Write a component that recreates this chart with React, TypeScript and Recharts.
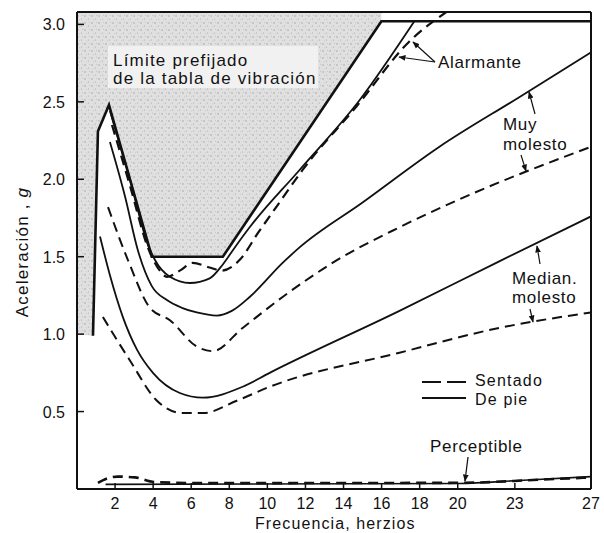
import { ComposedChart, Line, Area, XAxis, YAxis, ReferenceLine } from "recharts";

// frecuencia (Hz) y aceleración (g)
const xTicks = [2, 4, 6, 8, 10, 12, 14, 16, 18, 20, 23, 27];
const yTicks = [0.5, 1.0, 1.5, 2.0, 2.5, 3.0];
const yTop = 3.08;

const limitF = [0.84, 1.1, 1.68, 3.93, 7.66, 15.99, 27];
const limitG = [0.99, 2.31, 2.48, 1.5, 1.5, 3.02, 3.02];

const alarmPieF = [1.73, 2.78, 3.72, 4.09, 4.88, 5.93, 6.97, 7.66, 8.29, 9.07, 11.69, 14.84, 17.72];
const alarmPieG = [2.44, 2.0, 1.58, 1.48, 1.37, 1.33, 1.36, 1.45, 1.56, 1.69, 2.06, 2.51, 3.02];

const alarmSentF = [1.84, 2.78, 3.72, 4.35, 4.72, 5.4, 6.08, 6.97, 7.6, 8.55, 9.49, 10.75, 11.85, 14.68, 17.46, 19.4];
const alarmSentG = [2.35, 1.96, 1.56, 1.41, 1.37, 1.41, 1.46, 1.43, 1.41, 1.48, 1.65, 1.87, 2.06, 2.47, 2.89, 3.08];

const muyPieF = [1.73, 2.52, 3.2, 3.93, 4.72, 5.51, 6.29, 7.34, 8.13, 9.07, 10.8, 11.69, 15.0, 19.04, 23.23, 27];
const muyPieG = [2.24, 1.89, 1.54, 1.31, 1.22, 1.17, 1.14, 1.12, 1.15, 1.24, 1.46, 1.56, 1.85, 2.21, 2.53, 2.82];

const muySentF = [1.63, 2.67, 3.83, 4.88, 6.29, 7.13, 8.7, 10.8, 13.42, 16.94, 20.08, 27];
const muySentG = [1.82, 1.48, 1.17, 1.09, 0.92, 0.89, 1.04, 1.24, 1.46, 1.69, 1.87, 2.21];

const medPieF = [1.21, 1.73, 2.41, 3.15, 3.99, 5.4, 6.61, 8.7, 10.12, 16.94, 22.18, 27];
const medPieG = [1.63, 1.38, 1.11, 0.9, 0.75, 0.62, 0.59, 0.66, 0.75, 1.15, 1.47, 1.76];

const medSentF = [1.36, 2.78, 4.2, 5.56, 6.61, 8.39, 10.12, 16.94, 22.18, 27];
const medSentG = [1.11, 0.83, 0.57, 0.49, 0.49, 0.57, 0.66, 0.88, 1.04, 1.14];

const percPieF = [1.5, 20.1, 23.2, 27];
const percPieG = [0.03, 0.036, 0.055, 0.08];

const percSentF = [1.1, 1.63, 2.15, 3.04, 4.09, 6.45, 20.1, 24.3, 27];
const percSentG = [0.04, 0.07, 0.08, 0.075, 0.045, 0.038, 0.04, 0.06, 0.075];

const pts = (f: number[], g: number[]) => f.map((v, i) => ({ f: v, g: g[i] }));

// zona sombreada: sobre el límite, hasta el borde superior
const shadeData = [{ f: 0, g: 1.0 }, ...pts(limitF, limitG).filter((p) => p.f < 16)].map((p) => ({
  f: p.f,
  band: [p.g, yTop],
}));

const ink = "#111";
const font = "'Liberation Sans', Arial, sans-serif";

const XTick = ({ x, y, payload }: any) => (
  <g>
    <line x1={x} y1={y} x2={x} y2={y - 6} stroke={ink} strokeWidth={1.5} />
    <text x={x} y={y + 20} textAnchor="middle" fontSize={16} fill={ink} fontFamily={font}>
      {payload.value}
    </text>
  </g>
);

const YTick = ({ x, y, payload }: any) => (
  <g>
    <line x1={x} y1={y} x2={x + 7} y2={y} stroke={ink} strokeWidth={1.5} />
    <text x={x - 12} y={y + 6} textAnchor="end" fontSize={16} fill={ink} fontFamily={font}>
      {payload.value.toFixed(1)}
    </text>
  </g>
);

const solid = (key: string, data: any[], w = 1.8) => (
  <Line key={key} data={data} dataKey="g" type="monotone" stroke={ink} strokeWidth={w} dot={false} activeDot={false} isAnimationActive={false} />
);
const dashed = (key: string, data: any[], w = 2) => (
  <Line key={key} data={data} dataKey="g" type="monotone" stroke={ink} strokeWidth={w} strokeDasharray="10 6" dot={false} activeDot={false} isAnimationActive={false} />
);

export default function App() {
  const txt = { fontSize: 17, fill: ink, fontFamily: font, letterSpacing: 0.7 } as const;
  const leg = { ...txt, fontSize: 16, letterSpacing: 1.2 } as const;
  return (
    <div style={{ position: "relative", width: 604, height: 533, overflow: "hidden" }}>
      <style>{"html,body{margin:0;padding:0;overflow:hidden}"}</style>
      <ComposedChart width={604} height={533} margin={{ top: 12, right: 13, bottom: 4, left: 17 }}>
        <XAxis
          dataKey="f"
          type="number"
          domain={[0, 27]}
          ticks={xTicks}
          interval={0}
          height={40}
          tickSize={0}
          tickMargin={0}
          tick={<XTick />}
          axisLine={{ stroke: ink, strokeWidth: 2 }}
          allowDataOverflow
        />
        <YAxis
          type="number"
          domain={[0, yTop]}
          ticks={yTicks}
          interval={0}
          width={60}
          tickSize={0}
          tickMargin={0}
          tick={<YTick />}
          axisLine={{ stroke: ink, strokeWidth: 2 }}
          allowDataOverflow
        />
        <Area data={shadeData} dataKey="band" type="linear" stroke="none" fill="url(#stip)" fillOpacity={1} isAnimationActive={false} activeDot={false} />
        <ReferenceLine y={yTop} stroke={ink} strokeWidth={2} />
        <ReferenceLine x={27} stroke={ink} strokeWidth={2} />
        <Line data={pts(limitF, limitG)} dataKey="g" type="linear" stroke={ink} strokeWidth={2.6} dot={false} activeDot={false} isAnimationActive={false} />
        {solid("ap", pts(alarmPieF, alarmPieG))}
        {dashed("as", pts(alarmSentF, alarmSentG), 2.2)}
        {solid("mp", pts(muyPieF, muyPieG))}
        {dashed("ms", pts(muySentF, muySentG))}
        {solid("dp", pts(medPieF, medPieG))}
        {dashed("ds", pts(medSentF, medSentG))}
        {solid("pp", pts(percPieF, percPieG), 1.6)}
        {dashed("ps", pts(percSentF, percSentG), 2.6)}
      </ComposedChart>
      <svg width={604} height={533} style={{ position: "absolute", left: 0, top: 0, pointerEvents: "none" }}>
        <defs>
          <pattern id="stip" width="7" height="7" patternUnits="userSpaceOnUse">
            <rect width="7" height="7" fill="#e0e0e0" />
            <circle cx="1" cy="2" r="0.7" fill="#9a9a9a" />
            <circle cx="4.5" cy="5" r="0.6" fill="#aaaaaa" />
            <circle cx="5.5" cy="1.2" r="0.5" fill="#bbbbbb" />
            <circle cx="2.5" cy="5.8" r="0.5" fill="#c4c4c4" />
          </pattern>
          <marker id="arr" viewBox="0 0 10 10" refX="9" refY="5" markerWidth="6" markerHeight="6" orient="auto">
            <path d="M0,1 L10,5 L0,9 z" fill={ink} />
          </marker>
        </defs>
        <rect x={108} y={46} width={210} height={42} fill="#f1f1f1" />
        <text x={113} y={66} {...txt} letterSpacing={1.2}>Límite prefijado</text>
        <text x={113} y={84} {...txt} letterSpacing={1.2}>de la tabla de vibración</text>

        <text x={438} y={68} {...txt}>Alarmante</text>
        <line x1={435} y1={62} x2={413} y2={42} stroke={ink} strokeWidth={1.2} markerEnd="url(#arr)" />
        <line x1={435} y1={62} x2={399} y2={57} stroke={ink} strokeWidth={1.2} markerEnd="url(#arr)" />

        <text x={503} y={130} {...txt}>Muy</text>
        <text x={503} y={150} {...txt}>molesto</text>
        <line x1={535} y1={114} x2={529} y2={92} stroke={ink} strokeWidth={1.2} markerEnd="url(#arr)" />
        <line x1={521} y1={155} x2={526} y2={171} stroke={ink} strokeWidth={1.2} markerEnd="url(#arr)" />

        <text x={512} y={284} {...txt}>Median.</text>
        <text x={512} y={303} {...txt}>molesto</text>
        <line x1={540} y1={264} x2={537} y2={246} stroke={ink} strokeWidth={1.2} markerEnd="url(#arr)" />
        <line x1={530} y1={309} x2={533} y2={322} stroke={ink} strokeWidth={1.2} markerEnd="url(#arr)" />

        <line x1={422} y1={382} x2={441} y2={382} stroke={ink} strokeWidth={2} />
        <line x1={447} y1={382} x2={466} y2={382} stroke={ink} strokeWidth={2} />
        <text x={475} y={386} {...leg}>Sentado</text>
        <line x1={422} y1={398} x2={466} y2={398} stroke={ink} strokeWidth={1.8} />
        <text x={475} y={405} {...leg}>De pie</text>

        <text x={430} y={452} {...txt}>Perceptible</text>
        <line x1={468} y1={457} x2={465} y2={481} stroke={ink} strokeWidth={1.2} markerEnd="url(#arr)" />

        <text x={255} y={529} {...txt} fontSize={16} letterSpacing={1.1}>Frecuencia, herzios</text>
        <text transform="translate(28,252) rotate(-90)" textAnchor="middle" {...txt} letterSpacing={1.2}>
          Aceleración , <tspan fontStyle="italic">g</tspan>
        </text>
      </svg>
    </div>
  );
}
